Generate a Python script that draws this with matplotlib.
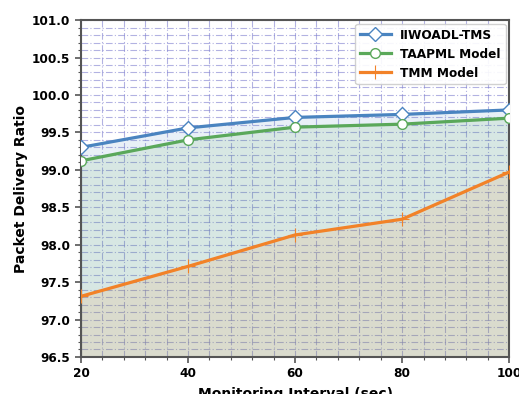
import matplotlib
matplotlib.use('Agg')
import matplotlib.pyplot as plt
from matplotlib.ticker import MultipleLocator
import numpy as np

intervals = [20, 40, 60, 80, 100]
iiwoadl = [99.30, 99.56, 99.70, 99.74, 99.80]
taapml = [99.12, 99.40, 99.57, 99.61, 99.69]
tmm = [97.31, 97.71, 98.13, 98.34, 98.97]

plt.rcParams['font.family'] = 'DejaVu Sans'
plt.rcParams['font.weight'] = 'bold'

fig = plt.figure(figsize=(5.19, 3.94), dpi=100)
ax = fig.add_axes([0.156, 0.094, 0.825, 0.855])

ymin = 96.5
# fills under each curve
ax.fill_between(intervals, ymin, iiwoadl, color='#4a84c0', alpha=0.12, zorder=1)
ax.fill_between(intervals, ymin, taapml, color='#5aa85a', alpha=0.12, zorder=1)
ax.fill_between(intervals, ymin, tmm, color='#f08a30', alpha=0.12, zorder=1)

ax.plot(intervals, iiwoadl, '-D', color='#4a84c0', lw=2.3, markersize=7,
        markerfacecolor='white', markeredgewidth=1.0, label='IIWOADL-TMS', zorder=3)
ax.plot(intervals, taapml, '-o', color='#5aa85a', lw=2.3, markersize=7,
        markerfacecolor='white', markeredgewidth=1.0, label='TAAPML Model', zorder=3)
ax.plot(intervals, tmm, '-+', color='#f28228', lw=2.3, markersize=10,
        markeredgewidth=0.8, label='TMM Model', zorder=3)

ax.set_xlim(20, 100)
ax.set_ylim(ymin, 101.0)
ax.xaxis.set_major_locator(MultipleLocator(20))
ax.xaxis.set_minor_locator(MultipleLocator(4))
ax.yaxis.set_major_locator(MultipleLocator(0.5))
ax.yaxis.set_minor_locator(MultipleLocator(0.1))

ax.grid(which='both', color='#8080d0', linestyle=(0, (6, 2, 1, 2)), linewidth=0.8, alpha=0.6, zorder=0)
ax.set_axisbelow(True)

for s in ax.spines.values():
    s.set_color('#555555')
    s.set_linewidth(1.5)
ax.tick_params(which='major', length=4, width=1.2, color='#555555', labelsize=8.7)
ax.tick_params(which='minor', length=2, width=0.8, color='#555555')
for lab in ax.get_xticklabels() + ax.get_yticklabels():
    lab.set_fontweight('bold')

ax.set_xlabel('Monitoring Interval (sec)', fontsize=10, fontweight='bold', labelpad=5)
ax.set_ylabel('Packet Delivery Ratio', fontsize=10, fontweight='bold', labelpad=3)

leg = ax.legend(loc='upper right', fontsize=8.7, framealpha=0.9, handlelength=2.5,
                borderaxespad=0.3)
for t in leg.get_texts():
    t.set_fontweight('bold')

fig.savefig('out.png', dpi=100)
